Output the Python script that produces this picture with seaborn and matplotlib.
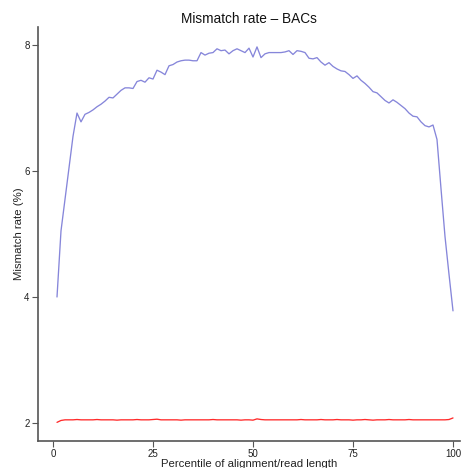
import matplotlib
matplotlib.use("Agg")
import matplotlib.pyplot as plt
import seaborn as sns
import pandas as pd

percentile = list(range(1, 101))

bac_mismatch = [
    4.00, 5.05, 5.55, 6.05, 6.55, 6.92, 6.78, 6.90, 6.93, 6.97,
    7.02, 7.06, 7.11, 7.17, 7.16, 7.22, 7.28, 7.32, 7.32, 7.31,
    7.42, 7.44, 7.41, 7.48, 7.46, 7.60, 7.57, 7.53, 7.67, 7.69,
    7.73, 7.75, 7.76, 7.76, 7.75, 7.75, 7.88, 7.84, 7.87, 7.88,
    7.94, 7.91, 7.92, 7.86, 7.91, 7.94, 7.91, 7.88, 7.95, 7.81,
    7.97, 7.80, 7.86, 7.88, 7.88, 7.88, 7.88, 7.89, 7.91, 7.85,
    7.91, 7.90, 7.88, 7.79, 7.78, 7.80, 7.73, 7.68, 7.72, 7.66,
    7.62, 7.59, 7.58, 7.53, 7.47, 7.51, 7.44, 7.39, 7.33, 7.26,
    7.24, 7.18, 7.12, 7.08, 7.13, 7.09, 7.04, 6.99, 6.92, 6.87,
    6.86, 6.78, 6.72, 6.70, 6.73, 6.50, 5.72, 4.96, 4.36, 3.78,
]

red_mismatch = [
    2.01, 2.04, 2.05, 2.05, 2.05, 2.055, 2.05, 2.05, 2.05, 2.05,
    2.055, 2.05, 2.05, 2.05, 2.05, 2.045, 2.05, 2.05, 2.05, 2.05,
    2.055, 2.05, 2.05, 2.05, 2.055, 2.06, 2.05, 2.05, 2.05, 2.05,
    2.05, 2.045, 2.05, 2.05, 2.05, 2.05, 2.05, 2.05, 2.05, 2.055,
    2.05, 2.05, 2.05, 2.05, 2.05, 2.05, 2.045, 2.05, 2.05, 2.045,
    2.065, 2.055, 2.05, 2.05, 2.05, 2.05, 2.05, 2.05, 2.05, 2.05,
    2.05, 2.055, 2.05, 2.05, 2.05, 2.05, 2.055, 2.05, 2.05, 2.05,
    2.055, 2.05, 2.05, 2.05, 2.045, 2.05, 2.05, 2.055, 2.05, 2.045,
    2.05, 2.05, 2.05, 2.055, 2.05, 2.05, 2.05, 2.05, 2.055, 2.05,
    2.05, 2.05, 2.05, 2.05, 2.05, 2.05, 2.05, 2.05, 2.055, 2.08,
]

x_ticks = [0, 25, 50, 75, 100]
y_ticks = [2, 4, 6, 8]

sns.set_style("white")
plt.rcParams["font.family"] = ["Liberation Sans", "DejaVu Sans"]

fig = plt.figure(figsize=(4.61, 4.68), dpi=100)
ax = fig.add_axes([38 / 461, 1 - 441 / 468, (460 - 38) / 461, (441 - 27) / 468])

df_blue = pd.DataFrame({"x": percentile, "y": bac_mismatch})
df_red = pd.DataFrame({"x": percentile, "y": red_mismatch})

sns.lineplot(data=df_blue, x="x", y="y", ax=ax, color="#8686da", linewidth=0.95)
sns.lineplot(data=df_red, x="x", y="y", ax=ax, color="#ff2a2a", linewidth=0.95)

ax.set_xlim(-3.75, 101.75)
ax.set_ylim(1.714, 8.286)
ax.set_xticks(x_ticks)
ax.set_xticklabels([str(t) for t in x_ticks])
ax.set_yticks(y_ticks)
ax.set_yticklabels([str(t) for t in y_ticks])

for s in ["top", "right"]:
    ax.spines[s].set_visible(False)
for s in ["left", "bottom"]:
    ax.spines[s].set_color("#555555")
    ax.spines[s].set_linewidth(1.2)

ax.tick_params(axis="both", direction="out", length=4, width=0.8, color="#555555",
               labelsize=7, labelcolor="#222222", pad=2, bottom=True, left=True)

ax.set_xlabel("Percentile of alignment/read length", fontsize=8.2, color="#222222", labelpad=0)
ax.set_ylabel("Mismatch rate (%)", fontsize=8.2, color="#222222", labelpad=0)
ax.set_title("Mismatch rate – BACs", fontsize=9.8, color="#111111", pad=3)

fig.savefig("out.png", dpi=100)
